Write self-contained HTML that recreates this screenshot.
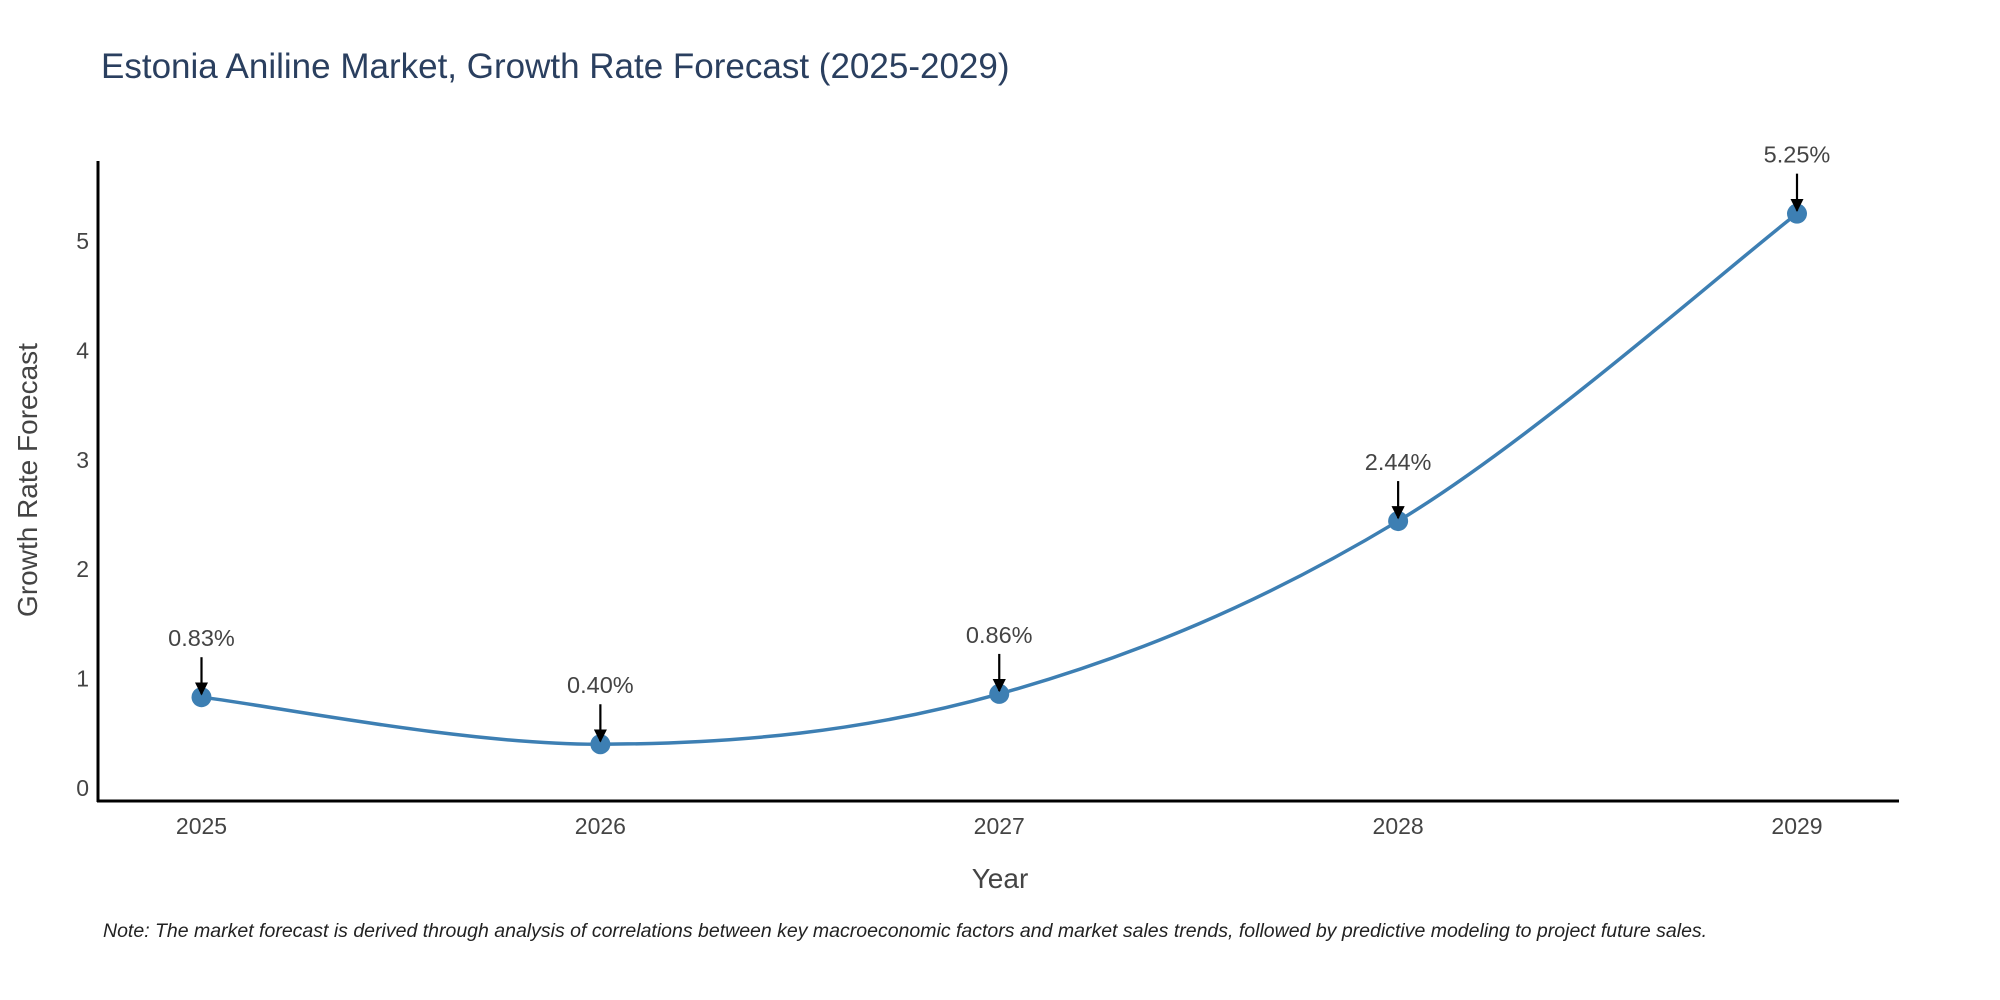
<!DOCTYPE html>
<html><head><meta charset="utf-8"><style>
html,body{margin:0;padding:0;background:#fff;}
svg{display:block;font-family:"Liberation Sans","DejaVu Sans",sans-serif;}
</style></head><body>
<svg id="chart" width="2000" height="1000" viewBox="0 0 2000 1000">
<text x="101" y="78" font-size="35" fill="#2a3f5f">Estonia Aniline Market, Growth Rate Forecast (2025-2029)</text>
<g id="yticks"></g>
<g id="xticks"></g>
<line x1="98" y1="161" x2="98" y2="802" stroke="#000" stroke-width="3"/>
<line x1="97" y1="801" x2="1899" y2="801" stroke="#000" stroke-width="3"/>
<text x="0" y="0" transform="translate(37,480) rotate(-90)" text-anchor="middle" font-size="28" fill="#444">Growth Rate Forecast</text>
<text x="1000" y="888" text-anchor="middle" font-size="28" fill="#444">Year</text>
<g id="series"></g>
<g id="annots"></g>
<text x="103" y="937" font-size="19.5" font-style="italic" fill="#222">Note: The market forecast is derived through analysis of correlations between key macroeconomic factors and market sales trends, followed by predictive modeling to project future sales.</text>
<defs><marker id="ah" viewBox="0 0 10 10" refX="9" refY="5" markerWidth="6" markerHeight="6" orient="auto"><path d="M0,0 L10,5 L0,10 z" fill="#000"/></marker></defs>
</svg>
<script>
const years = ["2025","2026","2027","2028","2029"];
const values = [0.83, 0.40, 0.86, 2.44, 5.25];
const valueLabels = ["0.83%","0.40%","0.86%","2.44%","5.25%"];
const yTickValues = [0,1,2,3,4,5];

const NS="http://www.w3.org/2000/svg";
const x0=201.5, x1=1797, yZero=788, yUnit=109.4;
function xScale(i){return x0+(x1-x0)*i/(years.length-1);}
function yScale(v){return yZero-v*yUnit;}
function mk(tag,attrs,parent){const e=document.createElementNS(NS,tag);for(const k in attrs)e.setAttribute(k,attrs[k]);parent.appendChild(e);return e;}

const yt=document.getElementById('yticks');
yTickValues.forEach(v=>{
  const t=mk('text',{x:89,y:yScale(v)+8,'text-anchor':'end','font-size':23,fill:'#444'},yt);
  
  
  t.textContent=v;
});
const xt=document.getElementById('xticks');
years.forEach((y,i)=>{
  const t=mk('text',{x:xScale(i),y:834,'text-anchor':'middle','font-size':23,fill:'#444'},xt);
  
  
  t.textContent=y;
});

const pts=values.map((v,i)=>[xScale(i),yScale(v)]);
let d="M"+pts[0][0]+","+pts[0][1];
const s=0.17;
for(let i=0;i<pts.length-1;i++){
  const p0=pts[Math.max(0,i-1)],p1=pts[i],p2=pts[i+1],p3=pts[Math.min(pts.length-1,i+2)];
  const c1=[p1[0]+(p2[0]-p0[0])*s,p1[1]+(p2[1]-p0[1])*s];
  const c2=[p2[0]-(p3[0]-p1[0])*s,p2[1]-(p3[1]-p1[1])*s];
  d+=" C"+c1+" "+c2+" "+p2;
}
const ser=document.getElementById('series');
const line=mk('path',{d:d,fill:'none',stroke:'#3d7fb3','stroke-width':3.5},ser);


pts.forEach((p,i)=>{
  const c=mk('circle',{cx:p[0],cy:p[1],r:10,fill:'#3d7fb3'},ser);
  
  
});
const an=document.getElementById('annots');
pts.forEach((p,i)=>{
  const a=mk('line',{x1:p[0],y1:p[1]-40,x2:p[0],y2:p[1]-3,stroke:'#000','stroke-width':2.2,'marker-end':'url(#ah)'},an);
  
  
  const t=mk('text',{x:p[0],y:p[1]-51,'text-anchor':'middle','font-size':23.5,fill:'#444'},an);
  
  
  t.textContent=valueLabels[i];
});
</script>
</body></html>
